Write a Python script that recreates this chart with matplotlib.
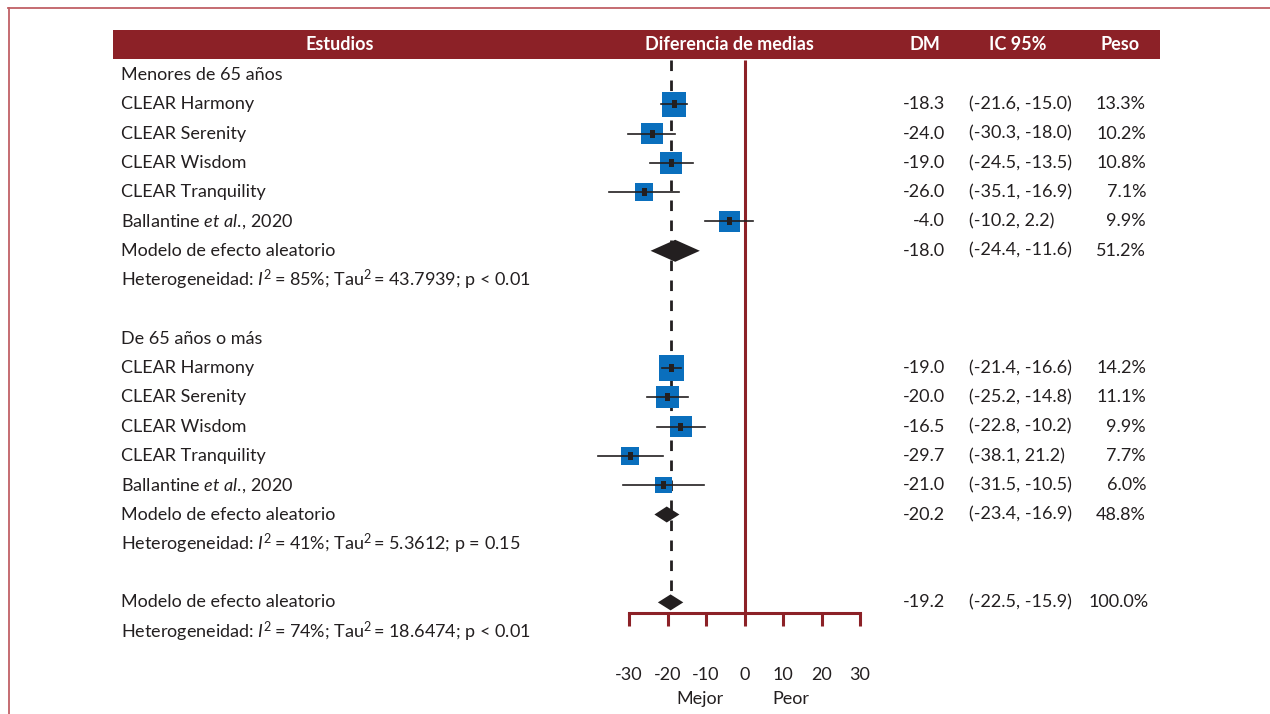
import matplotlib
matplotlib.use("Agg")
import matplotlib.pyplot as plt
from matplotlib.patches import Rectangle, Polygon
from matplotlib.lines import Line2D
import matplotlib.transforms as mtransforms
import numpy as np

plt.rcParams['font.family'] = ['Lato', 'DejaVu Sans']
plt.rcParams['mathtext.fontset'] = 'custom'
plt.rcParams['mathtext.rm'] = 'Lato'
plt.rcParams['mathtext.it'] = 'Lato:italic'
plt.rcParams['mathtext.bf'] = 'Lato:bold'

# ---- data ----
columns = ["Estudios", "Diferencia de medias", "DM", "IC 95%", "Peso"]
group_titles = ["Menores de 65 años", "De 65 años o más"]
studies = ["CLEAR Harmony", "CLEAR Serenity", "CLEAR Wisdom", "CLEAR Tranquility",
           r"Ballantine $\mathit{et\ al.}\!$, 2020"]

g1_md = [-18.3, -24.0, -19.0, -26.0, -4.0]
g1_lo = [-21.6, -30.3, -24.5, -35.1, -10.2]
g1_hi = [-15.0, -18.0, -13.5, -16.9, 2.2]
g1_w = [13.3, 10.2, 10.8, 7.1, 9.9]
g1_ic_text = ["(-21.6, -15.0)", "(-30.3, -18.0)", "(-24.5, -13.5)", "(-35.1, -16.9)", "(-10.2, 2.2)"]

g2_md = [-19.0, -20.0, -16.5, -29.7, -21.0]
g2_lo = [-21.4, -25.2, -22.8, -38.1, -31.5]
g2_hi = [-16.6, -14.8, -10.2, -21.2, -10.5]
g2_w = [14.2, 11.1, 9.9, 7.7, 6.0]
g2_ic_text = ["(-21.4, -16.6)", "(-25.2, -14.8)", "(-22.8, -10.2)", "(-38.1, 21.2)", "(-31.5, -10.5)"]

pooled_label = "Modelo de efecto aleatorio"
pooled_md = [-18.0, -20.2, -19.2]
pooled_lo = [-24.4, -23.4, -22.5]
pooled_hi = [-11.6, -16.9, -15.9]
pooled_w = [51.2, 48.8, 100.0]

het_texts = [
    r"Heterogeneidad: $\mathit{I}^{2}\!$ = 85%; Tau$^{2}\!$ = 43.7939; p < 0.01",
    r"Heterogeneidad: $\mathit{I}^{2}\!$ = 41%; Tau$^{2}\!$ = 5.3612; p = 0.15",
    r"Heterogeneidad: $\mathit{I}^{2}\!$ = 74%; Tau$^{2}\!$ = 18.6474; p < 0.01",
]

x_ticks = [-30, -20, -10, 0, 10, 20, 30]
x_side_labels = ["Mejor", "Peor"]

# ---- style ----
RED = "#8c2127"
BLUE = "#0a6fbd"
INK = "#231f20"
FS = 13
W, H = 1270, 714
PX_PER_UNIT = 3.85      # horizontal scale (pixels per unit of mean difference)
X_ZERO = 744.5          # pixel column of the null line
ROW0, ROW_H = 75, 29.3  # pixel row of first line and row pitch

fig = plt.figure(figsize=(W / 100, H / 100), dpi=100)
ax = fig.add_axes([0, 0, 1, 1])
ax.set_xlim(-X_ZERO / PX_PER_UNIT, (W - X_ZERO) / PX_PER_UNIT)
ax.set_ylim((H - ROW0) / ROW_H, -ROW0 / ROW_H)
ax.axis("off")

def row_of(py):
    return (py - ROW0) / ROW_H

# text positioned by pixel column and row index
tr = mtransforms.blended_transform_factory(ax.transAxes, ax.transData)

def put(px, row, s, ha="left", **kw):
    kw.setdefault("color", INK)
    kw.setdefault("fontsize", FS)
    ax.text(px / W, row, s, transform=tr, ha=ha, va="center", **kw)

# outer frame lines
ax.add_line(Line2D([8 / W, 1], [1 - 8 / H, 1 - 8 / H], transform=ax.transAxes,
                   color="#c06066", lw=1.3))
ax.add_line(Line2D([8.5 / W, 8.5 / W], [0, 1 - 8 / H], transform=ax.transAxes,
                   color="#c06066", lw=1.3))

# header band
ax.add_patch(Rectangle((113 / W, 1 - 59 / H), (1160 - 113) / W, 29 / H,
                       transform=ax.transAxes, color=RED, lw=0))
hdr_x = [340, 729, 925, 1018, 1120]
for xpx, name in zip(hdr_x, columns):
    ax.text(xpx / W, 1 - 45 / H, name, transform=ax.transAxes, ha="center", va="center",
            color="white", fontsize=FS, fontweight="bold")

# null line and axis
top_row = row_of(60)
axis_row = row_of(613)
tick_end = row_of(626)
ax.plot([0, 0], [top_row, axis_row], color=RED, lw=2.2, solid_capstyle="butt", zorder=1)
ax.plot([x_ticks[0], x_ticks[-1]], [axis_row, axis_row], color=RED, lw=2.2,
        solid_capstyle="projecting", zorder=1)
for t in x_ticks:
    ax.plot([t, t], [axis_row, tick_end], color=RED, lw=2.2, solid_capstyle="butt", zorder=1)
    put(X_ZERO + t * PX_PER_UNIT, row_of(675), str(t), ha="center")
put(700, row_of(699), x_side_labels[0], ha="center")
put(791, row_of(699), x_side_labels[1], ha="center")

# overall-effect reference line
ax.plot([pooled_md[2], pooled_md[2]], [top_row, 18], color=INK, lw=2.0,
        linestyle=(0, (3.8, 3.4)), zorder=2)

def study_mark(row, md, lo, hi, w):
    ax.plot([lo, hi], [row, row], color=INK, lw=1.2, zorder=4)
    side = 6.7 * np.sqrt(w)
    ax.add_patch(Rectangle((md - side / 2 / PX_PER_UNIT, row - side / 2 / ROW_H),
                           side / PX_PER_UNIT, side / ROW_H, color=BLUE, lw=0, zorder=3))
    ax.add_patch(Rectangle((md - 2.5 / PX_PER_UNIT, row - 4 / ROW_H),
                           5 / PX_PER_UNIT, 8 / ROW_H, color=INK, lw=0, zorder=5))

def diamond(row, md, lo, hi, half_px):
    h = half_px / ROW_H
    ax.add_patch(Polygon([(lo, row), (md, row - h), (hi, row), (md, row + h)],
                         closed=True, color=INK, lw=0, zorder=5))

LABEL_X, DM_X, IC_X, W_X = 121, 945, 969, 1146

groups = [
    (0, g1_md, g1_lo, g1_hi, g1_w, g1_ic_text),
    (9, g2_md, g2_lo, g2_hi, g2_w, g2_ic_text),
]
diamond_half = [11, 8, 8]

for gi, (start, md, lo, hi, w, ic) in enumerate(groups):
    put(LABEL_X, start, group_titles[gi])
    for k in range(len(studies)):
        r = start + 1 + k
        put(LABEL_X, r, studies[k])
        study_mark(r, md[k], lo[k], hi[k], w[k])
        put(DM_X, r, f"{md[k]:.1f}", ha="right")
        put(IC_X, r, ic[k])
        put(W_X, r, f"{w[k]:.1f}%", ha="right")
    r = start + 1 + len(studies)
    put(LABEL_X, r, pooled_label)
    diamond(r, pooled_md[gi], pooled_lo[gi], pooled_hi[gi], diamond_half[gi])
    put(DM_X, r, f"{pooled_md[gi]:.1f}", ha="right")
    put(IC_X, r, f"({pooled_lo[gi]:.1f}, {pooled_hi[gi]:.1f})")
    put(W_X, r, f"{pooled_w[gi]:.1f}%", ha="right")
    put(LABEL_X, r + 1, het_texts[gi])

# overall pooled estimate
r = 18
put(LABEL_X, r, pooled_label)
diamond(r, pooled_md[2], pooled_lo[2], pooled_hi[2], diamond_half[2])
put(DM_X, r, f"{pooled_md[2]:.1f}", ha="right")
put(IC_X, r, f"({pooled_lo[2]:.1f}, {pooled_hi[2]:.1f})")
put(W_X + 3, r, f"{pooled_w[2]:.1f}%", ha="right")
put(LABEL_X, r + 1, het_texts[2])

fig.savefig("out.png", dpi=100, facecolor="white")
